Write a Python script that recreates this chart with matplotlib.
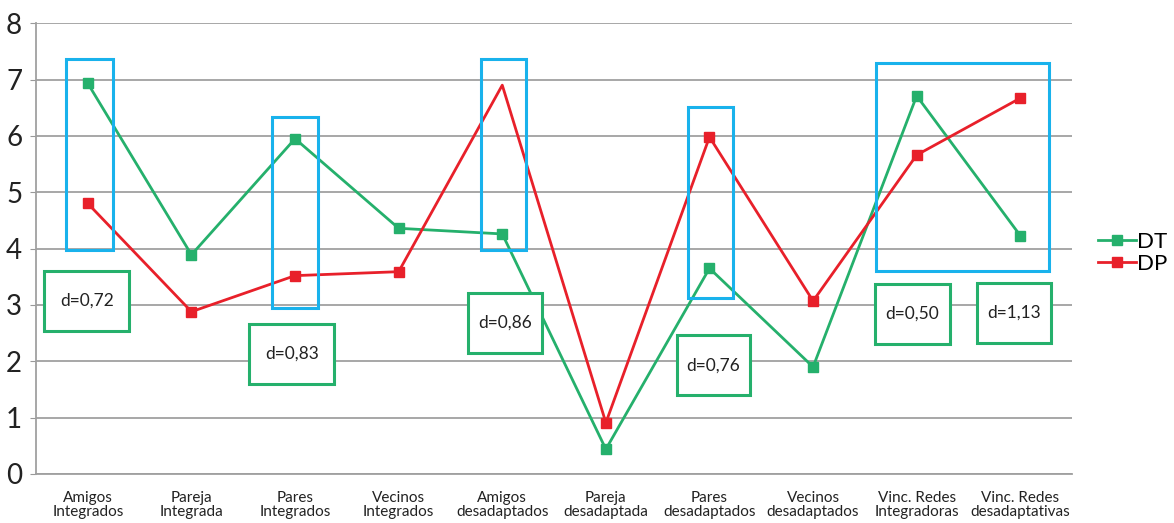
import matplotlib.pyplot as plt
from matplotlib.patches import Rectangle

plt.rcParams['font.family'] = ['Lato', 'DejaVu Sans']

categories = ['Amigos\nIntegrados', 'Pareja\nIntegrada', 'Pares\nIntegrados', 'Vecinos\nIntegrados',
              'Amigos\ndesadaptados', 'Pareja\ndesadaptada', 'Pares\ndesadaptados', 'Vecinos\ndesadaptados',
              'Vinc. Redes\nIntegradoras', 'Vinc. Redes\ndesadaptativas']
dt = [6.93, 3.89, 5.95, 4.36, 4.26, 0.44, 3.65, 1.90, 6.71, 4.23]
dp = [4.80, 2.88, 3.52, 3.59, 6.90, 0.91, 5.98, 3.07, 5.66, 6.67]
d_labels = ['d=0,72', 'd=0,83', 'd=0,86', 'd=0,76', 'd=0,50', 'd=1,13']

green = '#25b06c'
red = '#e8202a'
blue = '#19b2ec'

fig = plt.figure(figsize=(11.74, 5.23), dpi=100)
ax = fig.add_axes([0.0307, 0.0937, 0.8825, 0.862])

x = list(range(len(categories)))
ax.plot(x, dt, color=green, lw=2, marker='s', ms=7, label='DT', zorder=3)
# red peak at "Amigos desadaptados" has no marker in the original
ax.plot(x, dp, color=red, lw=2, marker='s', ms=7, label='DP', zorder=3,
        markevery=[0, 1, 2, 3, 5, 6, 7, 8, 9])

# blue highlight boxes: (x0, x1, y0, y1) in category / value units
blue_boxes = [(-0.21, 0.24, 3.97, 7.36), (1.78, 2.22, 2.94, 6.33), (3.79, 4.23, 3.97, 7.36),
              (5.79, 6.23, 3.12, 6.51), (7.61, 9.28, 3.60, 7.29)]
for x0, x1, y0, y1 in blue_boxes:
    ax.add_patch(Rectangle((x0, y0), x1 - x0, y1 - y0, fill=False, ec=blue, lw=2.2, zorder=4))

# green effect size boxes
green_boxes = [(-0.42, 0.40, 2.54, 3.60), (1.56, 2.38, 1.60, 2.66), (3.67, 4.38, 2.15, 3.21),
               (5.69, 6.39, 1.40, 2.46), (7.60, 8.32, 2.31, 3.37), (8.58, 9.30, 2.33, 3.39)]
for (x0, x1, y0, y1), lab in zip(green_boxes, d_labels):
    ax.add_patch(Rectangle((x0, y0), x1 - x0, y1 - y0, fc='white', ec=green, lw=2.2, zorder=5))
    ax.text((x0 + x1) / 2, (y0 + y1) / 2, lab, ha='center', va='center', fontsize=12.5,
            color='#222222', zorder=6)

ax.set_xlim(-0.5, len(categories) - 0.5)
ax.set_ylim(0, 8)
ax.set_yticks(range(0, 9))
ax.set_xticks(x)
ax.set_xticklabels(categories, fontsize=11, color='#222222', linespacing=1.0)
ax.tick_params(axis='y', labelsize=20, colors='#222222', length=4, color='#999999', pad=6)
ax.tick_params(axis='x', length=0, pad=12)
ax.yaxis.grid(True, color='#a0a0a0', lw=1.3)
ax.set_axisbelow(True)
for s in ['top', 'right']:
    ax.spines[s].set_visible(False)
ax.spines['left'].set_color('#a0a0a0')
ax.spines['bottom'].set_color('#a0a0a0')
ax.spines['left'].set_linewidth(1.3)
ax.spines['bottom'].set_linewidth(1.3)

leg = ax.legend(loc='center left', bbox_to_anchor=(1.025, 0.49), frameon=False, fontsize=16,
                handlelength=1.7, handletextpad=0.05, labelspacing=0.1,
                borderpad=0, borderaxespad=0)

fig.savefig('out.png', dpi=100)
